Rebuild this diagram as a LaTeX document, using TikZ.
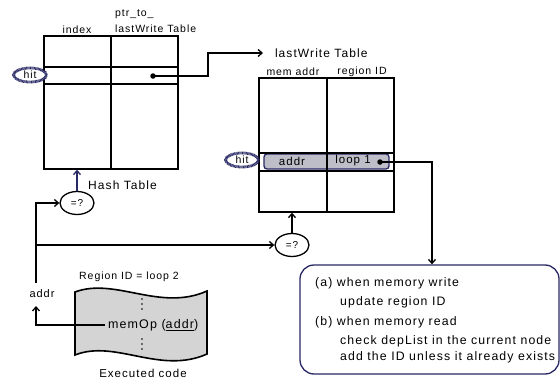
\documentclass[tikz,border=0pt]{standalone}
\usepackage{fontspec}
\setmainfont{Liberation Sans}[LetterSpace=9]
\usetikzlibrary{arrows.meta,calc,shapes.geometric}
\definecolor{navy}{RGB}{40,40,100}
\definecolor{rowgray}{RGB}{190,190,200}
\definecolor{docgray}{RGB}{212,212,212}
\tikzset{
  tbl/.style={draw, line width=1.4pt, inner sep=0pt},
  grid/.style={line width=1.4pt},
  lbl/.style={inner sep=0pt, font=\fontsize{10.5}{12}\selectfont},
  biglbl/.style={inner sep=0pt, font=\fontsize{12}{14}\selectfont},
  hitmark/.style={ellipse, draw=navy, line width=2.8pt, dash pattern=on 0.8pt off 0.5pt,
    fill=white, minimum width=33pt, minimum height=14pt, inner sep=0pt,
    font=\fontsize{10.5}{12}\selectfont},
  cmp/.style={ellipse, draw, line width=1.3pt, fill=white, minimum width=34pt,
    minimum height=23pt, inner sep=0pt, font=\fontsize{10}{11}\selectfont},
  conn/.style={line width=1.3pt, -{Straight Barb[length=4pt,width=7pt,line width=1.3pt]}},
  ptdot/.style={circle, fill, inner sep=0pt, minimum size=5.5pt},
  notetext/.style={inner sep=0pt, anchor=west, font=\fontsize{12.3}{14}\selectfont},
}
\begin{document}
\begin{tikzpicture}[x=1pt,y=-1pt]
\useasboundingbox (0,0) rectangle (560,380);

% ---- hash table ----
\node[tbl, minimum width=134pt, minimum height=133pt] (ht) at (111,102.5) {};
\draw[grid] (ht.north) -- (ht.south);
\draw[grid] (44,67) -- (178,67);
\draw[grid] (44,84) -- (178,84);
\node[lbl] (hidx) at (77,30) {index};
\node[lbl, anchor=west] (hptr1) at (115,14) {ptr\_to\_};
\node[lbl, anchor=west] (hptr2) at (115,29) {lastWrite Table};
\node[biglbl, anchor=west] (htname) at (88,185) {Hash Table};
\node[hitmark] (hit1) at (30,75) {hit};
\node[ptdot] (dot1) at (153,76) {};

% ---- lastWrite table ----
\node[draw=navy, fill=rowgray, rounded corners=3pt, line width=1.3pt,
      minimum width=125pt, minimum height=15pt, inner sep=0pt] (hl) at (326.5,161.5) {};
\node[tbl, minimum width=135pt, minimum height=134pt] (lw) at (326.5,145) {};
\draw[grid] (327,78) -- (327,212);
\draw[grid] (259,153) -- (394,153);
\draw[grid] (259,171) -- (394,171);
\node[biglbl, anchor=west, outer xsep=12pt] (lwt) at (263,53) {lastWrite Table};
\node[lbl] (lmem) at (293,72) {mem addr};
\node[lbl] (lreg) at (362,72) {region ID};
\node[lbl, font=\fontsize{11.5}{13}\selectfont] (laddr) at (292,161) {addr};
\node[lbl, font=\fontsize{11.5}{13}\selectfont] (lloop) at (353,161) {loop 1};
\node[ptdot] (dot2) at (380,162) {};
\node[hitmark] (hit2) at (242,160) {hit};

% ---- pointer from hash table to lastWrite table ----
\coordinate (bend1) at (208,53);
\draw[conn] (dot1.center) -| (bend1) -- (lwt.west);

% ---- comparators ----
\node[cmp] (eq1) at (77,203) {=?};
\node[cmp] (eq2) at (292,245) {=?};
\draw[conn, navy] (eq1.north) -- (eq1.north |- ht.south);
\draw[conn] (eq2.north) -- (eq2.north |- lw.south);

% ---- executed code ----
\path[draw, fill=docgray, line width=1.6pt]
  (75,292) .. controls (115,277) and (160,312) .. (207,291)
  -- (207,354) .. controls (160,375) and (115,339) .. (75,355) -- cycle;
\node[lbl] (region) at (129,277) {Region ID = loop 2};
\node[lbl, font=\fontsize{11.5}{13}\selectfont] (exec) at (143,373) {Executed code};
\node[lbl, anchor=west, outer xsep=3pt, font=\fontsize{12.5}{14}\selectfont] (memop) at (105,325) {memOp (\underline{addr})};
\foreach \yy in {299,304,309,339,344,349}
  \fill (142,\yy) circle (0.9pt);

% ---- address fed to the comparators ----
\node[lbl, font=\fontsize{11}{13}\selectfont] (addr) at (42,294) {addr};
\coordinate (abot) at (36,306);
\coordinate (trunk) at (36,283);
\draw[conn] (memop.west) -| (abot);
\draw[conn] (trunk) |- (eq1.west);
\draw[conn] (trunk |- eq2.west) -- (eq2.west);

% ---- action note ----
\node[draw=navy, rounded corners=14pt, line width=1.3pt,
      minimum width=259pt, minimum height=109pt, inner sep=0pt] (note) at (429.5,319.5) {};
\coordinate (bend2) at (432,162);
\draw[conn] (dot2.center) -- (bend2) -- (bend2 |- note.north);
\node[notetext] (na) at (315,283) {(a) when memory write};
\node[notetext] (na2) at (340,302) {update region ID};
\node[notetext] (nb) at (315,322) {(b) when memory read};
\node[notetext] (nb2) at (340,341) {check depList in the current node};
\node[notetext] (nb3) at (340,357) {add the ID unless it already exists};
\end{tikzpicture}
\end{document}
